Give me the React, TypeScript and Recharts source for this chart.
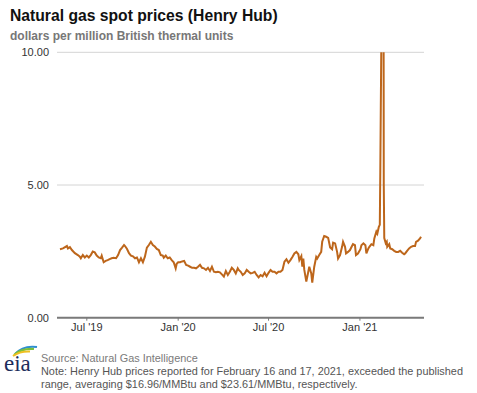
import React from 'react';
import { LineChart, Line, XAxis, YAxis, CartesianGrid } from 'recharts';

// Henry Hub daily spot, sampled off the published chart ($/MMBtu)
const dates = [
  '2019-05-08', '2019-05-14', '2019-05-22', '2019-05-24', '2019-05-28', '2019-06-01', '2019-06-07', '2019-06-13',
  '2019-06-17', '2019-06-19', '2019-06-23', '2019-06-27', '2019-07-01', '2019-07-05', '2019-07-09', '2019-07-13',
  '2019-07-17', '2019-07-21', '2019-07-25', '2019-07-29', '2019-07-31', '2019-08-04', '2019-08-08', '2019-08-12',
  '2019-08-16', '2019-08-20', '2019-08-24', '2019-08-29', '2019-09-02', '2019-09-06', '2019-09-10', '2019-09-14',
  '2019-09-16', '2019-09-20', '2019-09-24', '2019-09-28', '2019-10-02', '2019-10-06', '2019-10-10', '2019-10-14',
  '2019-10-18', '2019-10-22', '2019-10-26', '2019-10-30', '2019-11-03', '2019-11-07', '2019-11-11', '2019-11-15',
  '2019-11-19', '2019-11-23', '2019-11-27', '2019-12-01', '2019-12-03', '2019-12-07', '2019-12-11', '2019-12-15',
  '2019-12-19', '2019-12-23', '2019-12-27', '2019-12-29', '2020-01-01', '2020-01-05', '2020-01-09', '2020-01-13',
  '2020-01-17', '2020-01-21', '2020-01-25', '2020-01-29', '2020-02-02', '2020-02-06', '2020-02-10', '2020-02-14',
  '2020-02-18', '2020-02-22', '2020-02-26', '2020-03-01', '2020-03-05', '2020-03-09', '2020-03-13', '2020-03-17',
  '2020-03-21', '2020-03-25', '2020-03-29', '2020-04-02', '2020-04-06', '2020-04-10', '2020-04-14', '2020-04-18',
  '2020-04-22', '2020-04-26', '2020-04-30', '2020-05-02', '2020-05-06', '2020-05-10', '2020-05-14', '2020-05-18',
  '2020-05-22', '2020-05-26', '2020-05-30', '2020-06-03', '2020-06-07', '2020-06-11', '2020-06-15', '2020-06-19',
  '2020-06-23', '2020-06-27', '2020-07-01', '2020-07-05', '2020-07-09', '2020-07-13', '2020-07-17', '2020-07-21',
  '2020-07-25', '2020-07-29', '2020-08-02', '2020-08-06', '2020-08-10', '2020-08-14', '2020-08-18', '2020-08-22',
  '2020-08-26', '2020-08-30', '2020-09-01', '2020-09-05', '2020-09-07', '2020-09-09', '2020-09-11', '2020-09-15',
  '2020-09-19', '2020-09-21', '2020-09-25', '2020-09-27', '2020-10-01', '2020-10-05', '2020-10-07', '2020-10-11',
  '2020-10-15', '2020-10-17', '2020-10-21', '2020-10-25', '2020-10-29', '2020-11-02', '2020-11-06', '2020-11-08',
  '2020-11-12', '2020-11-16', '2020-11-18', '2020-11-22', '2020-11-26', '2020-11-28', '2020-12-02', '2020-12-04',
  '2020-12-08', '2020-12-12', '2020-12-16', '2020-12-18', '2020-12-22', '2020-12-24', '2020-12-28', '2021-01-02',
  '2021-01-04', '2021-01-08', '2021-01-12', '2021-01-14', '2021-01-18', '2021-01-20', '2021-01-24', '2021-01-28',
  '2021-01-30', '2021-02-03', '2021-02-05', '2021-02-08', '2021-02-10', '2021-02-11', '2021-02-12', '2021-02-16',
  '2021-02-17', '2021-02-18', '2021-02-19', '2021-02-22', '2021-02-24', '2021-02-25', '2021-03-01', '2021-03-03',
  '2021-03-07', '2021-03-11', '2021-03-15', '2021-03-19', '2021-03-23', '2021-03-27', '2021-03-31', '2021-04-02',
  '2021-04-06', '2021-04-10', '2021-04-14', '2021-04-18', '2021-04-22', '2021-04-24', '2021-04-28', '2021-05-02',
  '2021-05-04',
];

const prices = [
  2.58, 2.61, 2.70, 2.61, 2.66, 2.55, 2.43, 2.36,
  2.30, 2.24, 2.36, 2.27, 2.34, 2.27, 2.36, 2.49,
  2.46, 2.34, 2.27, 2.24, 2.34, 2.09, 2.14, 2.17,
  2.21, 2.24, 2.26, 2.24, 2.36, 2.55, 2.64, 2.74,
  2.70, 2.59, 2.43, 2.34, 2.31, 2.24, 2.27, 2.09,
  2.24, 2.09, 2.30, 2.64, 2.74, 2.86, 2.74, 2.68,
  2.59, 2.55, 2.36, 2.34, 2.26, 2.34, 2.24, 2.27,
  2.17, 2.09, 1.86, 2.03, 2.09, 2.09, 2.12, 2.14,
  1.99, 1.96, 1.92, 1.88, 1.88, 1.86, 1.92, 1.99,
  1.88, 1.86, 1.80, 1.88, 1.76, 1.92, 1.73, 1.71,
  1.73, 1.71, 1.63, 1.55, 1.76, 1.61, 1.73, 1.88,
  1.80, 1.67, 1.86, 1.80, 1.73, 1.61, 1.67, 1.80,
  1.73, 1.67, 1.69, 1.73, 1.61, 1.52, 1.61, 1.56,
  1.69, 1.56, 1.69, 1.80, 1.73, 1.73, 1.67, 1.73,
  1.73, 1.80, 2.11, 2.20, 2.07, 2.17, 2.29, 2.42,
  2.48, 2.39, 2.17, 2.32, 1.92, 2.23, 1.80, 1.36,
  1.73, 1.92, 1.67, 1.32, 1.92, 2.29, 2.23, 2.36,
  2.48, 2.86, 3.08, 3.05, 3.01, 2.65, 2.58, 2.83,
  2.80, 2.48, 2.23, 2.36, 2.67, 2.86, 2.67, 2.42,
  2.48, 2.55, 2.70, 2.77, 2.73, 2.36, 2.42, 2.58,
  2.73, 2.80, 2.73, 2.42, 2.61, 2.67, 2.77, 2.73,
  2.99, 3.24, 3.17, 3.42, 3.50, 5.50, 7.90, 16.96,
  23.61, 5.00, 3.00, 2.80, 2.86, 2.67, 2.77, 2.61,
  2.58, 2.52, 2.48, 2.48, 2.52, 2.45, 2.39, 2.42,
  2.52, 2.61, 2.67, 2.70, 2.70, 2.86, 2.90, 2.99,
  3.05,
];

const xTickDates = ['2019-07-01', '2020-01-01', '2020-07-01', '2021-01-01'];
const xTickLabels = ["Jul '19", "Jan '20", "Jul '20", "Jan '21"];
const yTicks = [0, 5, 10];

const toTime = (d: string) => Date.parse(d + 'T00:00:00Z');

const chartData = dates.map((d, i) => ({ t: toTime(d), price: prices[i] }));
const xTicks = xTickDates.map(toTime);
const xDomain = [toTime('2019-05-02'), toTime('2021-05-10')];

const font = '"Liberation Sans", Arial, sans-serif';

function EiaLogo() {
  return (
    <svg width={40} height={36} style={{ position: 'absolute', left: 2, top: 341 }}>
      <path d="M13 13 Q21 4 35 6" stroke="#2f8fd0" strokeWidth={2} fill="none" />
      <path d="M12 14 Q20 7 32 8" stroke="#7cbf3a" strokeWidth={2} fill="none" />
      <path d="M11 15 Q18 10 28 10.5" stroke="#f0c020" strokeWidth={2} fill="none" />
      <text x={2} y={30} fontFamily='"Liberation Serif", "DejaVu Serif", serif' fontSize={23} fill="#1d2d5c">
        eia
      </text>
    </svg>
  );
}

export default function App() {
  return (
    <div style={{ position: 'absolute', left: 0, top: 0, width: 477, height: 393, background: '#fff', fontFamily: font }}>
      <div style={{ position: 'absolute', left: 10, top: 8, fontSize: 15.7, lineHeight: '16px', fontWeight: 'bold', color: '#111', whiteSpace: 'nowrap' }}>
        Natural gas spot prices (Henry Hub)
      </div>
      <div style={{ position: 'absolute', left: 10, top: 30, fontSize: 12, lineHeight: '12px', fontWeight: 'bold', color: '#777', whiteSpace: 'nowrap' }}>
        dollars per million British thermal units
      </div>

      <div style={{ position: 'absolute', left: 0, top: 0 }}>
        <LineChart width={477} height={350} data={chartData} margin={{ top: 52.3, right: 53, bottom: 2.3, left: 0 }}>
          <CartesianGrid vertical={false} stroke="#d4d4d4" strokeWidth={1} />
          <XAxis
            dataKey="t"
            type="number"
            domain={xDomain}
            ticks={xTicks}
            tickFormatter={(v: number) => xTickLabels[xTicks.indexOf(v)] ?? ''}
            height={30}
            axisLine={{ stroke: '#7a7a7a', strokeWidth: 2 }}
            tickLine={{ stroke: '#7a7a7a' }}
            tickSize={3}
            tickMargin={2}
            tick={{ fontSize: 11, fill: '#333', fontFamily: font }}
            interval={0}
          />
          <YAxis
            type="number"
            domain={[0, 10]}
            ticks={yTicks}
            allowDataOverflow
            width={57}
            axisLine={false}
            tickLine={false}
            tickFormatter={(v: number) => v.toFixed(2)}
            tick={{ fontSize: 11, fill: '#333', fontFamily: font }}
          />
          <Line
            type="linear"
            dataKey="price"
            stroke="#bd661b"
            strokeWidth={2}
            dot={false}
            isAnimationActive={false}
          />
        </LineChart>
      </div>

      <EiaLogo />
      <div style={{ position: 'absolute', left: 41, top: 352, fontSize: 10.9, lineHeight: '13px', color: '#555', whiteSpace: 'nowrap' }}>
        <div style={{ color: '#7a7a7a' }}>Source: Natural Gas Intelligence</div>
        <div>Note: Henry Hub prices reported for February 16 and 17, 2021, exceeded the published</div>
        <div>range, averaging $16.96/MMBtu and $23.61/MMBtu, respectively.</div>
      </div>
    </div>
  );
}
